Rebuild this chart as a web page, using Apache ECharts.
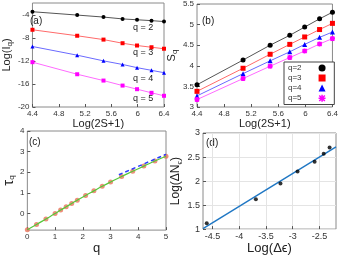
<!DOCTYPE html>
<html><head><meta charset="utf-8">
<script src="https://cdn.jsdelivr.net/npm/echarts@6/dist/echarts.min.js"></script>
<style>html,body{margin:0;padding:0;background:#fff}#c{width:341px;height:256px}</style>
</head><body><div id="c"></div>
<script>
// Panel (a)/(b): x = Log(2S+1)
const logS = [4.4, 5.08, 5.48, 5.77, 5.99, 6.21, 6.4];
const logI2 = [-3.42, -4.0, -4.35, -4.67, -4.82, -4.97, -5.13];
const logI3 = [-6.56, -7.6, -8.27, -8.9, -9.3, -9.6, -9.86];
const logI4 = [-9.47, -10.98, -11.97, -12.6, -13.15, -13.62, -14.03];
const logI5 = [-12.2, -14.3, -15.4, -16.27, -16.9, -17.53, -18.05];
const S2 = [3.54, 4.14, 4.5, 4.74, 4.94, 5.14, 5.3];
const S3 = [3.38, 3.94, 4.28, 4.52, 4.7, 4.88, 5.03];
const S4 = [3.27, 3.81, 4.12, 4.34, 4.52, 4.69, 4.82];
const S5 = [3.18, 3.69, 3.99, 4.2, 4.36, 4.53, 4.66];
const qLabels = ['q=2', 'q=3', 'q=4', 'q=5'];
// Panel (c)
const qVals = [0, 0.33, 0.67, 1, 1.2, 1.4, 1.6, 1.8, 2.1, 2.4, 2.7, 3, 3.4, 3.8, 4.2, 4.6, 5];
const tauVals = [-0.78, -0.53, -0.26, 0, 0.17, 0.33, 0.49, 0.65, 0.88, 1.1, 1.32, 1.53, 1.8, 2.05, 2.3, 2.55, 2.78];
const qFit = [3.3, 5];
const tauFit = [1.88, 2.87];
// Panel (d)
const logDe = [-4.61, -3.69, -3.23, -2.91, -2.59, -2.42, -2.31];
const logDN = [1.12, 1.62, 1.95, 2.2, 2.4, 2.57, 2.7];
const fitX = [-4.68, -2.19];
const fitY = [1.01, 2.71];
const dTicks = [-4.5, -4, -3.5, -3, -2.5];
const cTicks = [0, 1, 2, 3, 4];

const FONT = 'Liberation Sans, Arial, sans-serif';
const zip = (a, b) => a.map((v, i) => [v, b[i]]);
const chart = echarts.init(document.getElementById('c'), null, {renderer: 'canvas'});
const frame = {show: true, borderColor: '#8a8a8a', borderWidth: 1, backgroundColor: 'transparent'};
const tickLbl = {fontFamily: FONT, fontSize: 8, color: '#333', margin: 3};
const sub = {fontFamily: FONT, fontSize: 8, color: '#222', padding: [7, 0, 0, 0]};
const big = {fontFamily: FONT, fontSize: 11, color: '#222'};

function xAx(gi, extra) {
  return Object.assign({gridIndex: gi, type: 'value', axisLine: {show: false, onZero: false},
    axisTick: {inside: true, length: 3, lineStyle: {color: '#555'}}, splitLine: {show: false},
    axisLabel: Object.assign({}, tickLbl), nameLocation: 'middle',
    nameTextStyle: {fontFamily: FONT, fontSize: 11, color: '#222'}}, extra);
}
const lineCol = ['#000000', '#ff0000', '#0000ff', '#ff00ff'];
const lineSoft = ['#555555', '#ff6a6a', '#6a6aff', '#ff6aff'];
const symA = ['circle', 'rect', 'triangle', 'rect'];
const star = 'path://M0,-5L0,5M-5,0L5,0M-4,-4L4,4M-4,4L4,-4';
const symB = ['circle', 'rect', 'triangle', star];

const seriesA = [logI2, logI3, logI4, logI5].map((d, i) => ({
  type: 'line', xAxisIndex: 0, yAxisIndex: 0, data: zip(logS, d), symbol: symA[i], symbolSize: 4,
  lineStyle: {color: lineSoft[i], width: 1}, itemStyle: {color: lineCol[i]}, silent: true, animation: false
}));
const seriesB = [S2, S3, S4, S5].map((d, i) => ({
  type: 'line', name: qLabels[i], xAxisIndex: 1, yAxisIndex: 1, data: zip(logS, d), symbol: symB[i], symbolSize: 5,
  lineStyle: {color: lineSoft[i], width: 1}, itemStyle: {color: lineCol[i], borderColor: lineCol[i], borderWidth: i === 3 ? 1.5 : 0},
  silent: true, animation: false
}));

const option = {
  animation: false,
  textStyle: {fontFamily: FONT},
  grid: [
    Object.assign({left: 25, top: 3, width: 139, height: 104}, frame),
    Object.assign({left: 197, top: 3, width: 139, height: 104}, frame),
    Object.assign({left: 27, top: 131, width: 139, height: 104}, frame),
    Object.assign({left: 203, top: 133, width: 133, height: 101}, frame)
  ],
  legend: {
    data: qLabels.map((n, i) => ({name: n, icon: symB[i],
      itemStyle: i === 3 ? {color: '#ffb0ff', borderColor: lineCol[i], borderWidth: 1.5} : {color: lineCol[i], borderColor: lineCol[i], borderWidth: 0}})),
    orient: 'vertical', left: 284, top: 62, align: 'right', itemWidth: 7, itemHeight: 7, itemGap: 2,
    textStyle: {fontFamily: FONT, fontSize: 8, lineHeight: 8, color: '#333', padding: [0, 12, 0, 0]},
    borderColor: '#444', borderWidth: 1, padding: [2, 8, 2, 4], backgroundColor: '#fff'
  },
  xAxis: [
    xAx(0, {min: 4.4, max: 6.4, interval: 0.4, name: 'Log(2S+1)', nameGap: 10}),
    xAx(1, {min: 4.4, max: 6.4, interval: 0.4, name: 'Log(2S+1)', nameGap: 10}),
    xAx(2, {min: 0, max: 5, interval: 1, name: 'q', nameGap: 8, nameTextStyle: {fontFamily: FONT, fontSize: 13, color: '#222'}}),
    xAx(3, {min: -4.68, max: -2.19, name: 'Log(Δϵ)', nameGap: 11,
      axisLabel: Object.assign({}, tickLbl, {fontSize: 9, customValues: dTicks}),
      axisTick: {inside: true, length: 3, customValues: dTicks, lineStyle: {color: '#555'}},
      splitLine: {show: true, lineStyle: {color: '#e4e4e4', width: 1}},
      nameTextStyle: {fontFamily: FONT, fontSize: 13, color: '#222'}})
  ],
  yAxis: [
    xAx(0, {min: -20, max: -1.9, interval: 4, name: '{a|Log(I}{s|q}{a|)}', nameGap: 13, nameRotate: 90,
      axisLabel: Object.assign({}, tickLbl, {showMaxLabel: false}),
      nameTextStyle: {rich: {a: big, s: sub}}}),
    xAx(1, {min: 3, max: 5.5, interval: 0.5, name: '{a|S}{s|q}', nameGap: 15, nameRotate: 90,
      nameTextStyle: {rich: {a: big, s: sub}}}),
    xAx(2, {min: -0.8, max: 4, name: '{a|τ}{s|q}', nameGap: 10, nameRotate: 90,
      axisLabel: Object.assign({}, tickLbl, {customValues: cTicks}),
      axisTick: {inside: true, length: 3, customValues: cTicks, lineStyle: {color: '#555'}},
      nameTextStyle: {rich: {a: {fontFamily: FONT, fontSize: 15, color: '#222'}, s: sub}}}),
    xAx(3, {min: 1, max: 3, interval: 0.5, name: '{a|Log(ΔN}{s|ϵ}{a|)}', nameGap: 14, nameRotate: 90,
      axisLabel: Object.assign({}, tickLbl, {fontSize: 9}),
      splitLine: {show: true, lineStyle: {color: '#e4e4e4', width: 1}},
      nameTextStyle: {rich: {a: {fontFamily: FONT, fontSize: 12, color: '#222'}, s: sub}}})
  ],
  series: seriesA.concat(seriesB).concat([
    {type: 'scatter', xAxisIndex: 2, yAxisIndex: 2, data: zip(qVals, tauVals), symbol: 'circle', symbolSize: 5,
     itemStyle: {color: '#e8725a'}, silent: true, z: 2},
    {type: 'line', xAxisIndex: 2, yAxisIndex: 2, data: zip(qVals, tauVals), symbol: 'none', smooth: true,
     lineStyle: {color: '#55c83a', width: 1.2}, silent: true, z: 3},
    {type: 'line', xAxisIndex: 2, yAxisIndex: 2, data: zip(qFit, tauFit), symbol: 'none',
     lineStyle: {color: '#2a3cff', width: 1.5, type: [4, 3]}, silent: true, z: 3},
    {type: 'line', xAxisIndex: 3, yAxisIndex: 3, data: zip(fitX, fitY), symbol: 'none',
     lineStyle: {color: '#1f77c4', width: 1.4}, silent: true, z: 2},
    {type: 'scatter', xAxisIndex: 3, yAxisIndex: 3, data: zip(logDe, logDN), symbol: 'circle', symbolSize: 4,
     itemStyle: {color: '#000'}, silent: true, z: 3}
  ]),
  graphic: [
    {type: 'text', left: 30, top: 16, style: {text: '(a)', font: '10px ' + FONT, fill: '#222'}},
    {type: 'text', left: 202, top: 16, style: {text: '(b)', font: '10px ' + FONT, fill: '#222'}},
    {type: 'text', left: 29, top: 137, style: {text: '(c)', font: '10px ' + FONT, fill: '#222'}},
    {type: 'text', left: 206, top: 138, style: {text: '(d)', font: '10px ' + FONT, fill: '#222'}},
    {type: 'text', left: 133, top: 23, style: {text: 'q = 2', font: '9px ' + FONT, fill: '#222'}},
    {type: 'text', left: 133, top: 48, style: {text: 'q = 3', font: '9px ' + FONT, fill: '#222'}},
    {type: 'text', left: 133, top: 74, style: {text: 'q = 4', font: '9px ' + FONT, fill: '#222'}},
    {type: 'text', left: 133, top: 94, style: {text: 'q = 5', font: '9px ' + FONT, fill: '#222'}}
  ]
};
chart.setOption(option);
</script></body></html>
